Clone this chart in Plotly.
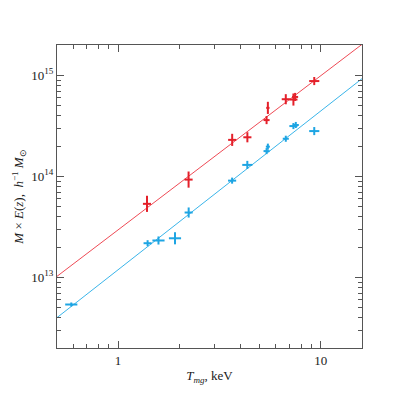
import plotly.graph_objects as go
import numpy as np

# Red sample
red_T = [1.39, 2.23, 3.66, 4.35, 5.41, 5.49, 6.73, 7.34, 7.48, 9.30]
red_M = [5.35e13, 9.3e13, 2.30e14, 2.44e14, 3.61e14, 4.77e14, 5.81e14, 5.77e14, 6.12e14, 8.79e14]
red_dlogT = [0.020, 0.020, 0.020, 0.020, 0.015, 0.008, 0.020, 0.020, 0.015, 0.025]
red_dlogM = [0.08, 0.08, 0.06, 0.05, 0.04, 0.06, 0.05, 0.06, 0.04, 0.04]

# Blue sample
blue_T = [0.588, 1.40, 1.584, 1.911, 2.232, 3.657, 4.347, 5.41, 5.49, 6.73, 7.34, 7.54, 9.30]
blue_M = [5.39e12, 2.18e13, 2.32e13, 2.44e13, 4.39e13, 9.08e13, 1.30e14, 1.78e14, 1.97e14,
          2.36e14, 3.15e14, 3.23e14, 2.81e14]
blue_dlogT = [0.030, 0.020, 0.030, 0.030, 0.020, 0.020, 0.025, 0.015, 0.010, 0.015, 0.020, 0.015, 0.025]
blue_dlogM = [0.02, 0.03, 0.04, 0.06, 0.05, 0.03, 0.04, 0.03, 0.03, 0.03, 0.03, 0.03, 0.04]

# Power-law fits: log10 M = a + b log10 T
red_fit = (13.47, 1.526)
blue_fit = (13.075, 1.572)
fit_T = [0.5, 16.0]

x_major = [1, 10]
x_major_text = ["1", "10"]
y_major = [1e13, 1e14, 1e15]
y_major_text = ["10<sup>13</sup>", "10<sup>14</sup>", "10<sup>15</sup>"]

RED = "#e4202a"
BLUE = "#1ea5e3"


def errs(vals, dlog):
    v = np.array(vals)
    d = np.array(dlog)
    return v * (10 ** d - 1), v * (1 - 10 ** (-d))


fig = go.Figure()
for T, M, dT, dM, fit, col, lcol in [
    (red_T, red_M, red_dlogT, red_dlogM, red_fit, RED, "#ee4a55"),
    (blue_T, blue_M, blue_dlogT, blue_dlogM, blue_fit, BLUE, "#3ab5ea"),
]:
    ft = np.array(fit_T)
    fig.add_trace(go.Scatter(x=ft, y=10 ** (fit[0] + fit[1] * np.log10(ft)), mode="lines",
                             line=dict(color=lcol, width=1), showlegend=False, hoverinfo="skip"))
    xp, xm = errs(T, dT)
    yp, ym = errs(M, dM)
    fig.add_trace(go.Scatter(
        x=T, y=M, mode="markers", marker=dict(size=1, color=col), showlegend=False,
        error_x=dict(type="data", array=xp, arrayminus=xm, color=col, thickness=2, width=0),
        error_y=dict(type="data", array=yp, arrayminus=ym, color=col, thickness=2, width=0),
    ))

x_minor = [0.5, 0.6, 0.7, 0.8, 0.9, 2, 3, 4, 5, 6, 7, 8, 9]
y_minor = [m * 10 ** e for e in (12, 13, 14) for m in range(2, 10)] + [2e15]

axcol = "#555555"
txtcol = "#1a1a1a"
fig.update_xaxes(type="log", range=[np.log10(0.5), np.log10(16)], showgrid=False, zeroline=False,
                 automargin=False,
                 showline=True, linecolor=axcol, linewidth=1, mirror="ticks",
                 ticks="inside", ticklen=7, tickcolor=axcol, tickwidth=1,
                 tickvals=x_major, ticktext=x_major_text,
                 minor=dict(tickvals=x_minor, ticks="inside", ticklen=4, tickcolor=axcol, tickwidth=1),
                 tickfont=dict(family="Liberation Serif", size=13, color=txtcol),
                 title=dict(text="<i>T<sub>mg</sub></i>, keV", standoff=4,
                            font=dict(family="Liberation Serif", size=13, color=txtcol)))
fig.update_yaxes(type="log", range=[np.log10(2e12), np.log10(2e15)], showgrid=False, zeroline=False,
                 automargin=False,
                 showline=True, linecolor=axcol, linewidth=1, mirror="ticks",
                 ticks="inside", ticklen=7, tickcolor=axcol, tickwidth=1,
                 tickvals=y_major, ticktext=y_major_text,
                 minor=dict(tickvals=y_minor, ticks="inside", ticklen=4, tickcolor=axcol, tickwidth=1),
                 tickfont=dict(family="Liberation Serif", size=13, color=txtcol),
                 title=dict(text="<i>M</i> × <i>E</i>(<i>z</i>),  <i>h</i><sup>−1</sup> <i>M</i><sub>⊙</sub>",
                            standoff=4, font=dict(family="Liberation Serif", size=13, color=txtcol)))
fig.update_layout(width=389, height=387, margin=dict(l=49, r=35, t=37, b=47),
                  plot_bgcolor="white", paper_bgcolor="white")
fig.write_html("out.html")
